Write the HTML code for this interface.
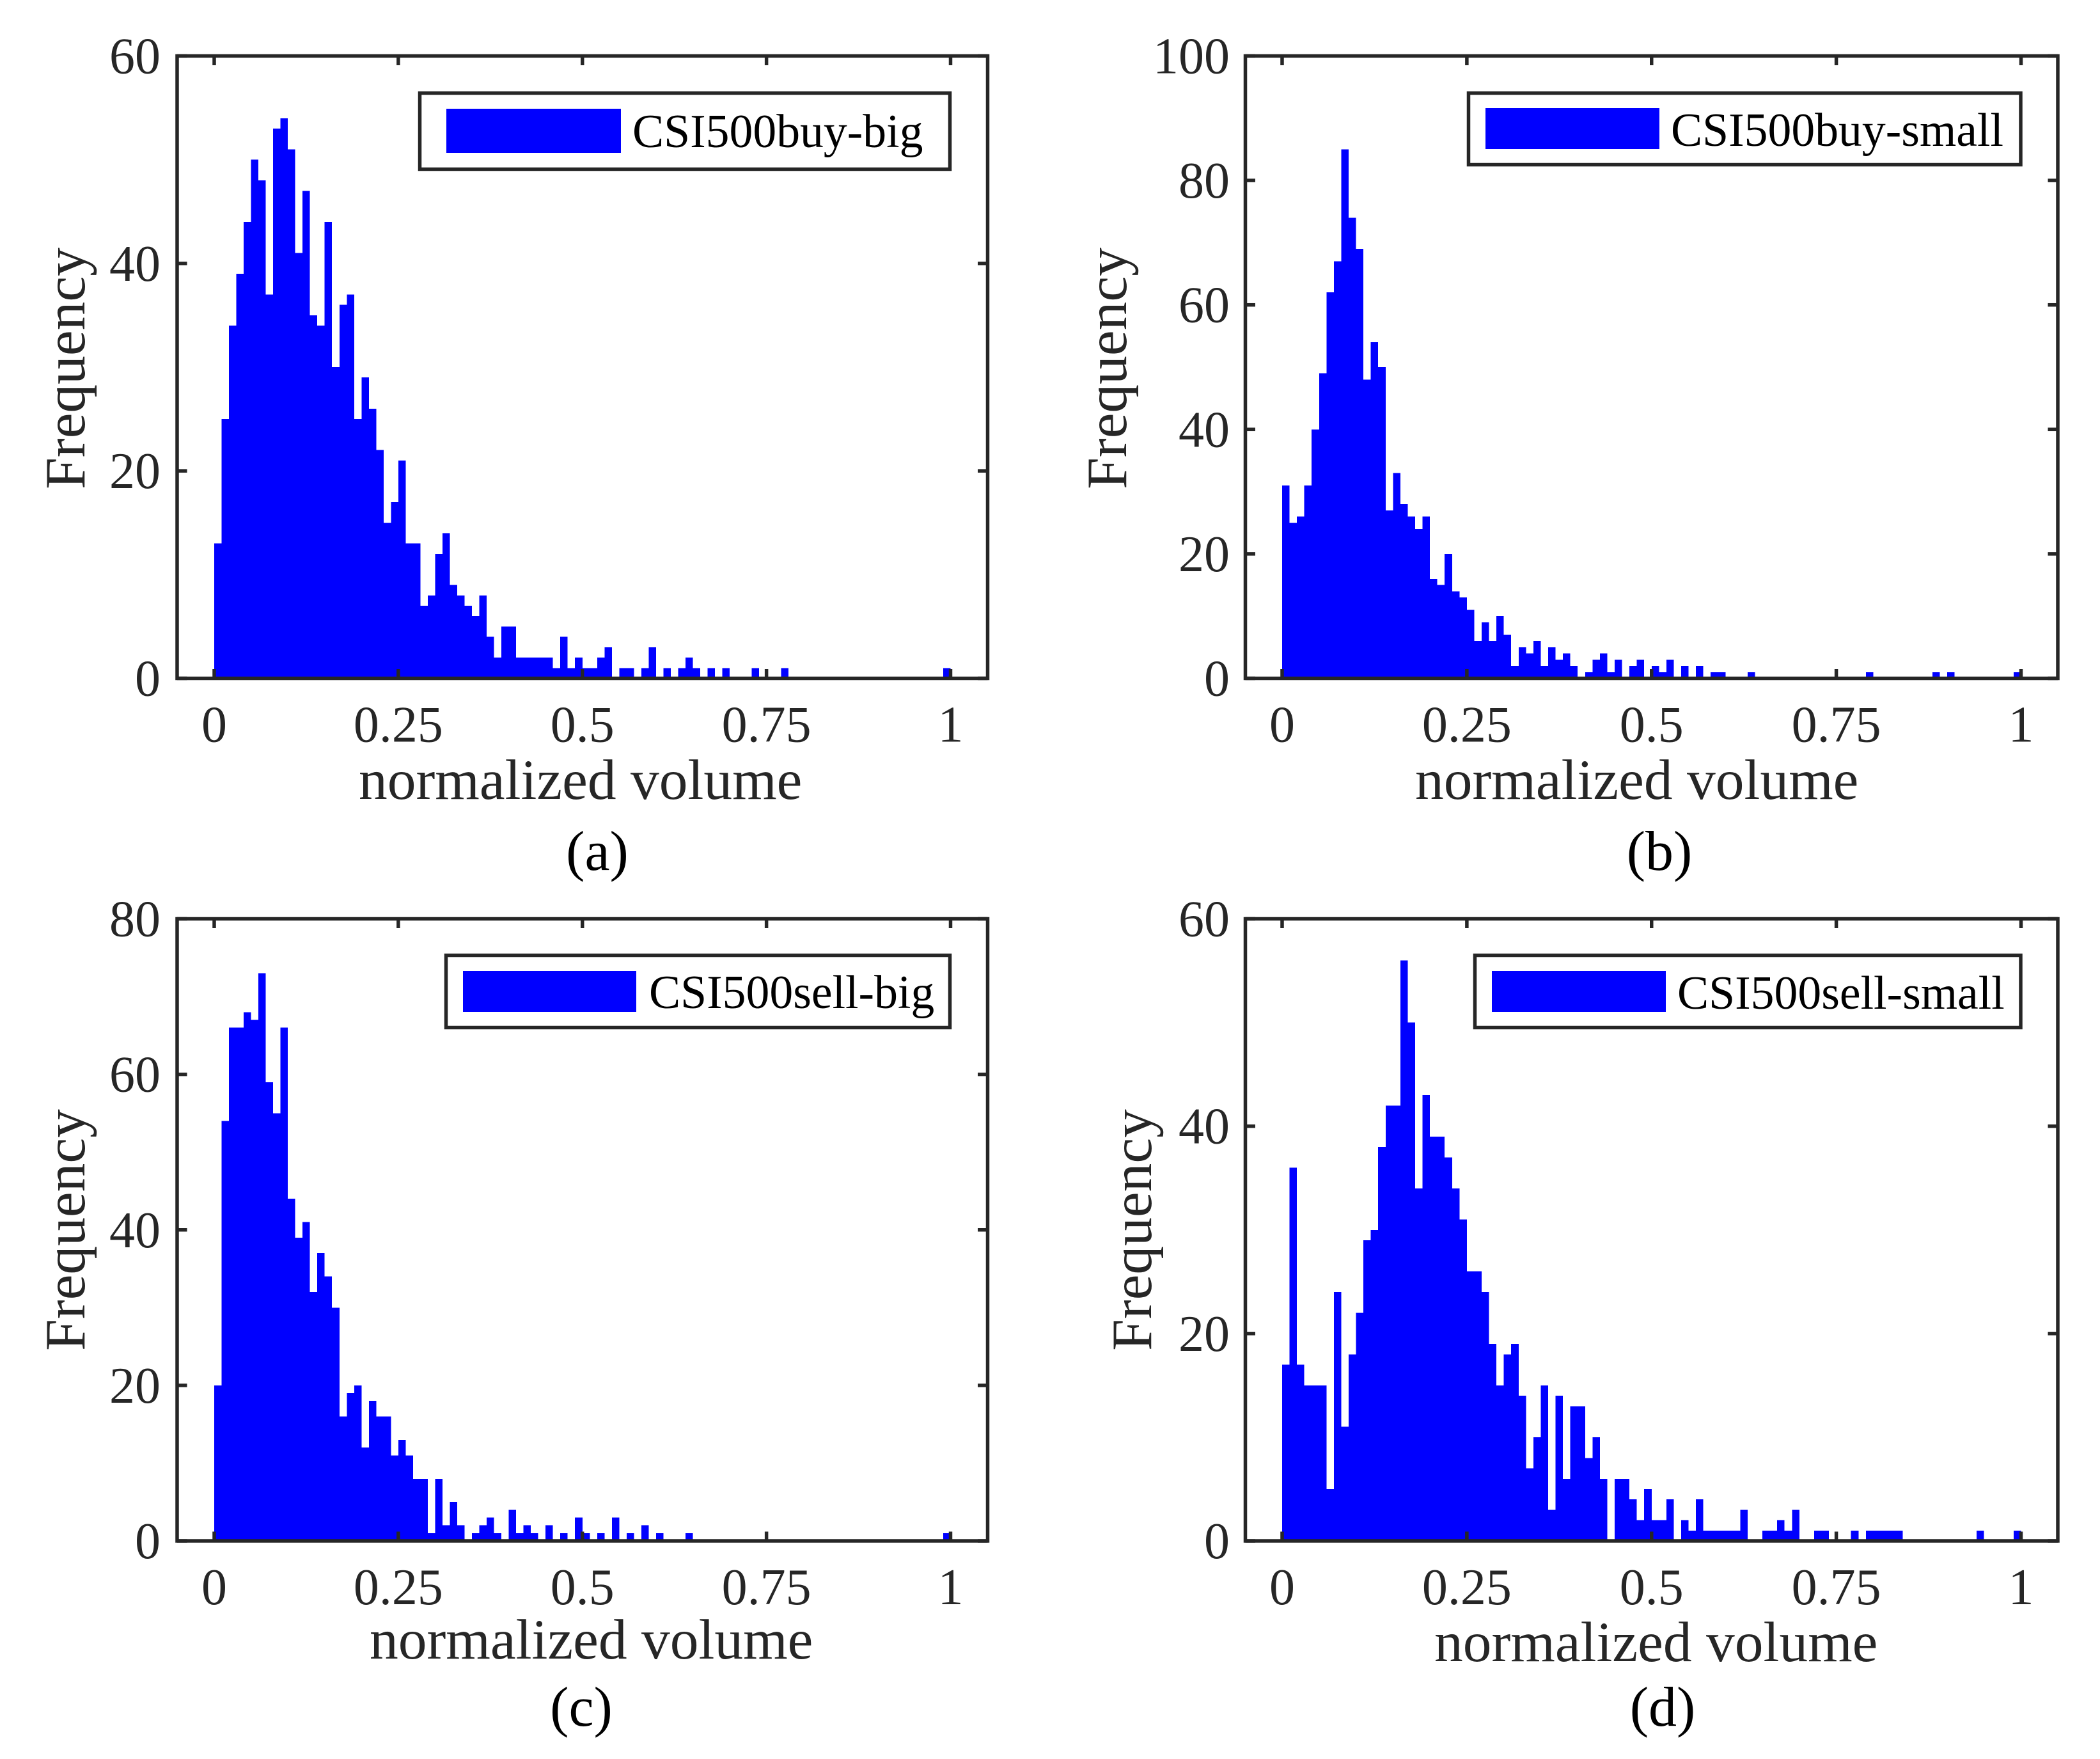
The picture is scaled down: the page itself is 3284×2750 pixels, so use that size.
<!DOCTYPE html>
<html lang="en">
<head>
<meta charset="utf-8">
<title>CSI500 normalized volume histograms</title>
<style>
html,body{margin:0;padding:0;background:#fff;}
svg{display:block;}
text{font-family:"Liberation Serif","Times New Roman",serif;}
.tick{font-size:80px;fill:#262626;}
.title{font-size:89.5px;fill:#262626;}
.cap{font-size:88px;fill:#000;text-anchor:middle;}
.leg{font-size:73.7px;fill:#000;}
.frame{fill:none;stroke:#262626;stroke-width:5.5;}
.legbox{fill:#fff;stroke:#262626;stroke-width:5.5;}
</style>
</head>
<body>
<svg xmlns="http://www.w3.org/2000/svg" width="3284" height="2750" viewBox="0 0 3284 2750">
<rect x="0" y="0" width="3284" height="2750" fill="#fff"/>

<g id="panel-a">
  <g class="bars"></g>
  <g class="ticks"></g>
  <rect class="frame" x="277" y="87.5" width="1267.5" height="973"/>
  <g class="labels"></g>
  <text class="title" x="561" y="1249">normalized volume</text>
  <text class="title" text-anchor="middle" transform="translate(132 576) rotate(-90)">Frequency</text>
  <rect class="legbox" x="656.5" y="145.5" width="829" height="119"/>
  <rect x="698" y="170" width="273" height="69" fill="#0000ff"/>
  <text class="leg" x="989" y="230">CSI500buy-big</text>
  <text class="cap" x="934" y="1360">(a)</text>
</g>

<g id="panel-b">
  <g class="bars"></g>
  <g class="ticks"></g>
  <rect class="frame" x="1947.5" y="87.5" width="1270.5" height="973"/>
  <g class="labels"></g>
  <text class="title" x="2213" y="1249">normalized volume</text>
  <text class="title" text-anchor="middle" transform="translate(1761 576) rotate(-90)">Frequency</text>
  <rect class="legbox" x="2296.5" y="145.5" width="863.5" height="112"/>
  <rect x="2323" y="169" width="272" height="64" fill="#0000ff"/>
  <text class="leg" x="2613" y="228">CSI500buy-small</text>
  <text class="cap" x="2595" y="1360">(b)</text>
</g>

<g id="panel-c">
  <g class="bars"></g>
  <g class="ticks"></g>
  <rect class="frame" x="277" y="1436.5" width="1267.5" height="972.5"/>
  <g class="labels"></g>
  <text class="title" x="578" y="2593">normalized volume</text>
  <text class="title" text-anchor="middle" transform="translate(132 1923) rotate(-90)">Frequency</text>
  <rect class="legbox" x="697.5" y="1493.5" width="788" height="113"/>
  <rect x="724" y="1518" width="271" height="64" fill="#0000ff"/>
  <text class="leg" x="1015" y="1576">CSI500sell-big</text>
  <text class="cap" x="909" y="2698">(c)</text>
</g>

<g id="panel-d">
  <g class="bars"></g>
  <g class="ticks"></g>
  <rect class="frame" x="1947.5" y="1436.5" width="1270.5" height="972.5"/>
  <g class="labels"></g>
  <text class="title" x="2243" y="2597">normalized volume</text>
  <text class="title" text-anchor="middle" transform="translate(1800 1923) rotate(-90)">Frequency</text>
  <rect class="legbox" x="2306.5" y="1493.5" width="853.5" height="113"/>
  <rect x="2333" y="1518" width="272" height="64" fill="#0000ff"/>
  <text class="leg" x="2623" y="1577">CSI500sell-small</text>
  <text class="cap" x="2600" y="2698">(d)</text>
</g>
</svg>

<script>
// Histogram bin counts: 100 equal bins over [0, 1]
const countsBuyBig = [
  13,25,34,39,44,50,48,37,53,54,
  51,41,47,35,34,44,30,36,37,25,
  29,26,22,15,17,21,13,13,7,8,
  12,14,9,8,7,6,8,4,2,5,
  5,2,2,2,2,2,1,4,1,2,
  1,1,2,3,0,1,1,0,1,3,
  0,1,0,1,2,1,0,1,0,1,
  0,0,0,1,0,0,0,1,0,0,
  0,0,0,0,0,0,0,0,0,0,
  0,0,0,0,0,0,0,0,0,1
];
const countsBuySmall = [
  31,25,26,31,40,49,62,67,85,74,
  69,48,54,50,27,33,28,26,24,26,
  16,15,20,14,13,11,6,9,6,10,
  7,2,5,4,6,2,5,3,4,2,
  0,1,3,4,1,3,0,2,3,0,
  2,1,3,0,2,0,2,0,1,1,
  0,0,0,1,0,0,0,0,0,0,
  0,0,0,0,0,0,0,0,0,1,
  0,0,0,0,0,0,0,0,1,0,
  1,0,0,0,0,0,0,0,0,1
];
const countsSellBig = [
  20,54,66,66,68,67,73,59,55,66,
  44,39,41,32,37,34,30,16,19,20,
  12,18,16,16,11,13,11,8,8,1,
  8,2,5,2,0,1,2,3,1,0,
  4,1,2,1,0,2,0,1,0,3,
  1,0,1,0,3,0,1,0,2,0,
  1,0,0,0,1,0,0,0,0,0,
  0,0,0,0,0,0,0,0,0,0,
  0,0,0,0,0,0,0,0,0,0,
  0,0,0,0,0,0,0,0,0,1
];
const countsSellSmall = [
  17,36,17,15,15,15,5,24,11,18,
  22,29,30,38,42,42,56,50,34,43,
  39,39,37,34,31,26,26,24,19,15,
  18,19,14,7,10,15,3,14,6,13,
  13,8,10,6,0,6,6,4,2,5,
  2,2,4,0,2,1,4,1,1,1,
  1,1,3,0,0,1,1,2,1,3,
  0,0,1,1,0,0,0,1,0,1,
  1,1,1,1,0,0,0,0,0,0,
  0,0,0,0,1,0,0,0,0,1
];
const xTickValues = [0, 0.25, 0.5, 0.75, 1];
const xTickLabels = ["0", "0.25", "0.5", "0.75", "1"];
const yTicksBuyBig = [0, 20, 40, 60];
const yTicksBuySmall = [0, 20, 40, 60, 80, 100];
const yTicksSellBig = [0, 20, 40, 60, 80];
const yTicksSellSmall = [0, 20, 40, 60];
const binCount = 100;

const SVGNS = "http://www.w3.org/2000/svg";

function makeLinear(d0, d1, r0, r1) {
  return function (v) { return r0 + (v - d0) / (d1 - d0) * (r1 - r0); };
}

function drawPanel(id, counts, yTicks, box) {
  const root = document.getElementById(id);
  const gBars = root.querySelector(".bars");
  const gTicks = root.querySelector(".ticks");
  const gLabels = root.querySelector(".labels");
  const x = makeLinear(0, 1, box.x0, box.x1);
  const yMax = yTicks[yTicks.length - 1];
  const y = makeLinear(0, yMax, box.base, box.top);

  counts.forEach(function (c, i) {
    if (c <= 0) return;
    const left = x(i / binCount);
    const right = x((i + 1) / binCount);
    const r = document.createElementNS(SVGNS, "rect");
    r.setAttribute("x", left);
    r.setAttribute("y", y(c));
    r.setAttribute("width", right - left);
    r.setAttribute("height", box.base - y(c));
    r.setAttribute("fill", "#0000ff");
    r.setAttribute("shape-rendering", "crispEdges");
    
    
    gBars.appendChild(r);
  });

  const tickLen = 14.5;
  function tick(x1, y1, x2, y2) {
    const l = document.createElementNS(SVGNS, "line");
    l.setAttribute("x1", x1);
    l.setAttribute("y1", y1);
    l.setAttribute("x2", x2);
    l.setAttribute("y2", y2);
    l.setAttribute("stroke", "#262626");
    l.setAttribute("stroke-width", "5.5");
    
    
    gTicks.appendChild(l);
  }
  function label(px, py, anchor, str, name) {
    const t = document.createElementNS(SVGNS, "text");
    t.setAttribute("class", "tick");
    t.setAttribute("x", px);
    t.setAttribute("y", py);
    t.setAttribute("text-anchor", anchor);
    t.textContent = str;
    
    
    gLabels.appendChild(t);
  }

  xTickValues.forEach(function (v, i) {
    tick(x(v), box.base, x(v), box.base - tickLen);
    tick(x(v), box.top, x(v), box.top + tickLen);
    label(x(v), box.base + 99, "middle", xTickLabels[i], "x-tick-label");
  });
  yTicks.forEach(function (v) {
    tick(box.left, y(v), box.left + tickLen + 1, y(v));
    tick(box.right, y(v), box.right - tickLen - 1, y(v));
    label(box.labelRight, y(v) + 27, "end", String(v), "y-tick-label");
  });
}

drawPanel("panel-a", countsBuyBig, yTicksBuyBig,
  {x0: 335, x1: 1486.5, base: 1060.5, top: 87.5, left: 277, right: 1544.5, labelRight: 251});
drawPanel("panel-b", countsBuySmall, yTicksBuySmall,
  {x0: 2005, x1: 3160.5, base: 1060.5, top: 87.5, left: 1947.5, right: 3218, labelRight: 1923});
drawPanel("panel-c", countsSellBig, yTicksSellBig,
  {x0: 335, x1: 1486.5, base: 2409, top: 1436.5, left: 277, right: 1544.5, labelRight: 251});
drawPanel("panel-d", countsSellSmall, yTicksSellSmall,
  {x0: 2005, x1: 3160.5, base: 2409, top: 1436.5, left: 1947.5, right: 3218, labelRight: 1923});
</script>
</body>
</html>
